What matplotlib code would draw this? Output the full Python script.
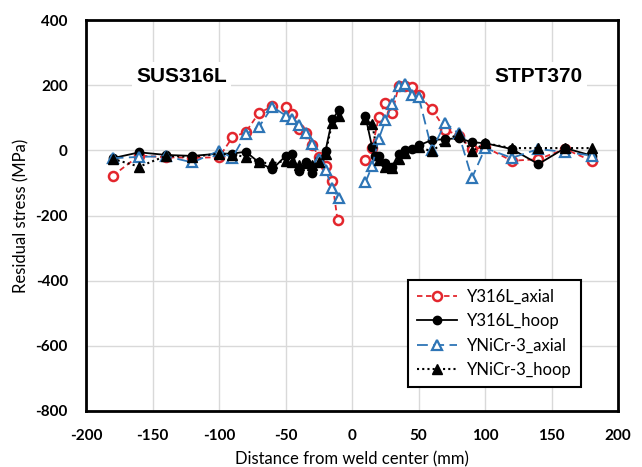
import matplotlib
matplotlib.use('Agg')
import matplotlib.pyplot as plt

plt.rcParams['axes.unicode_minus'] = False

# Y316L axial (open red circles, dashed)
y316_axial_xl = [-180, -160, -140, -120, -100, -90, -80, -70, -60, -50, -45, -40, -35, -30, -25, -20, -15, -11]
y316_axial_yl = [-78, -16, -21, -23, -21, 40, 56, 115, 135, 133, 112, 67, 54, 18, -21, -47, -95, -213]
y316_axial_xr = [10, 15, 20, 25, 30, 35, 40, 45, 50, 60, 70, 80, 90, 100, 120, 140, 160, 180]
y316_axial_yr = [-30, 6, 102, 146, 114, 198, 198, 194, 170, 126, 64, 45, 4, 10, -32, -27, 4, -32]

# Y316L hoop (filled black circles, solid)
y316_hoop_xl = [-180, -160, -140, -120, -100, -90, -80, -70, -60, -50, -45, -40, -35, -30, -25, -20, -15, -10]
y316_hoop_yl = [-24, -6, -14, -17, -10, -10, -4, -37, -58, -17, -10, -64, -37, -69, -30, -1, 95, 123]
y316_hoop_xr = [10, 15, 17, 20, 25, 27, 30, 35, 40, 45, 50, 60, 70, 80, 90, 100, 120, 140, 160, 180]
y316_hoop_yr = [105, 10, -16, -18, -38, -52, -50, -10, 0, 5, 15, 32, 34, 38, 25, 22, 4, -42, 7, -16]

# YNiCr-3 axial (open blue triangles, dashed)
ynicr_axial_xl = [-180, -160, -140, -120, -100, -90, -80, -70, -60, -50, -45, -40, -35, -30, -25, -20, -15, -10]
ynicr_axial_yl = [-24, -20, -18, -37, -1, -23, 50, 72, 134, 107, 97, 78, 53, 20, -28, -60, -114, -147]
ynicr_axial_xr = [10, 15, 20, 25, 30, 35, 40, 45, 50, 60, 70, 80, 90, 100, 120, 140, 160, 180]
ynicr_axial_yr = [-98, -48, 35, 92, 143, 198, 203, 170, 165, 0, 85, 52, -85, 7, -23, 4, -5, -16]

# YNiCr-3 hoop (filled black triangles, dotted)
ynicr_hoop_xl = [-180, -160, -140, -120, -100, -90, -80, -70, -60, -50, -45, -40, -35, -30, -25, -20, -15, -10]
ynicr_hoop_yl = [-26, -50, -17, -20, -10, -13, -20, -37, -40, -32, -35, -45, -40, -45, -37, -10, 85, 105]
ynicr_hoop_xr = [10, 15, 20, 25, 30, 35, 40, 50, 60, 70, 80, 90, 100, 120, 140, 160, 180]
ynicr_hoop_yr = [95, 82, -30, -50, -55, -25, -8, 10, -3, 30, 50, -3, 22, 7, 7, 7, 7]

x_ticks = [-200, -150, -100, -50, 0, 50, 100, 150, 200]
y_ticks = [-800, -600, -400, -200, 0, 200, 400]

RED = '#e3262d'
BLUE = '#2e75b6'
tick_font = 'Lato'

fig = plt.figure(figsize=(6.42, 4.67), dpi=100)
ax = fig.add_axes([0.134, 0.12, 0.829, 0.837])

styles = [
    ('Y316L_axial', y316_axial_xl, y316_axial_yl, y316_axial_xr, y316_axial_yr,
     dict(color=RED, ls=(0, (3, 2)), lw=1.3, marker='o', ms=6.5, mfc='white',
          mec=RED, mew=1.8)),
    ('Y316L_hoop', y316_hoop_xl, y316_hoop_yl, y316_hoop_xr, y316_hoop_yr,
     dict(color='black', ls='-', lw=1.3, marker='o', ms=6, mfc='black', mec='black')),
    ('YNiCr-3_axial', ynicr_axial_xl, ynicr_axial_yl, ynicr_axial_xr, ynicr_axial_yr,
     dict(color=BLUE, ls=(0, (6, 3)), lw=1.3, marker='^', ms=7, mfc='white',
          mec=BLUE, mew=1.6)),
    ('YNiCr-3_hoop', ynicr_hoop_xl, ynicr_hoop_yl, ynicr_hoop_xr, ynicr_hoop_yr,
     dict(color='black', ls=(0, (1, 1.5)), lw=1.5, marker='^', ms=6.5, mfc='black', mec='black')),
]

for name, xl, yl, xr, yr, kw in styles:
    ax.plot(xl, yl, label=name, **kw)
    ax.plot(xr, yr, **kw)

ax.set_xlim(-200, 200)
ax.set_ylim(-800, 400)
ax.set_xticks(x_ticks)
ax.set_yticks(y_ticks)
ax.grid(True, color='#d9d9d9', lw=1)
ax.set_axisbelow(True)
ax.tick_params(length=0, pad=13)
for lab in ax.get_xticklabels() + ax.get_yticklabels():
    lab.set_fontfamily(tick_font)
    lab.set_fontweight('bold')
    lab.set_fontsize(11)
for s in ax.spines.values():
    s.set_linewidth(2)
    s.set_color('black')

ax.set_xlabel('Distance from weld center (mm)', fontfamily=tick_font, fontsize=12, labelpad=6)
ax.set_ylabel('Residual stress (MPa)', fontfamily=tick_font, fontsize=12, labelpad=4)

for txt, xp in [('SUS316L', -128), ('STPT370', 140)]:
    ax.text(xp, 228, txt, ha='center', va='center', fontsize=15, fontweight='bold',
            fontfamily='Liberation Sans',
            bbox=dict(facecolor='white', edgecolor='none', pad=3))

leg = ax.legend(loc='lower right', bbox_to_anchor=(0.945, 0.04),
                prop={'family': tick_font, 'size': 12}, fancybox=False,
                framealpha=1, edgecolor='black', borderpad=0.55, labelspacing=0.5,
                handlelength=2.4, handletextpad=0.6)
leg.get_frame().set_linewidth(1.5)

fig.savefig('out.png', dpi=100)
